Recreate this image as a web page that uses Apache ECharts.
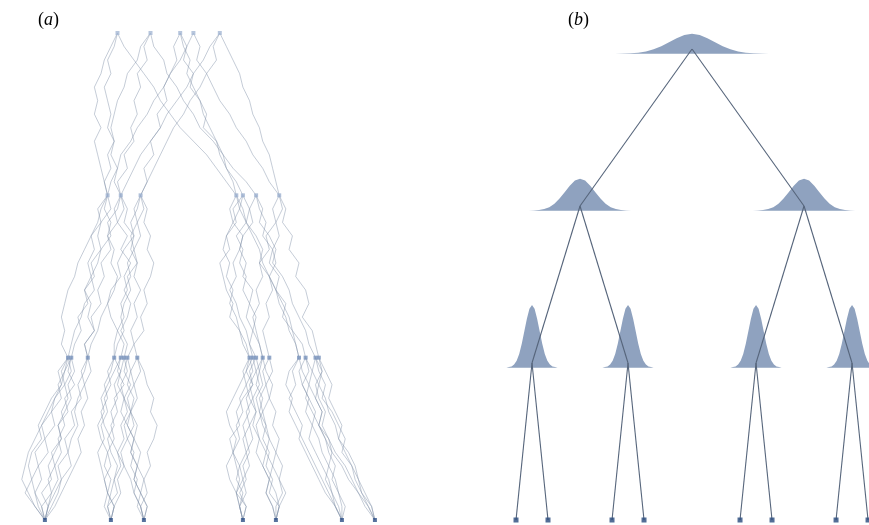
<!DOCTYPE html>
<html>
<head>
<meta charset="utf-8">
<script src="https://cdn.jsdelivr.net/npm/echarts@6/dist/echarts.min.js"></script>
<style>
  html, body { margin: 0; background: #fff; }
  #chart { width: 869px; height: 525px; }
</style>
</head>
<body>
<div id="chart"></div>
<script>
// (a) sample paths, x position at 13 equal time steps per generation
const walkTop = [
  [22, 20, 18, 17, 15, 16, 15, 17, 15, 16, 17, 18, 19],
  [22, 24, 27, 30, 33, 35, 38, 41, 45, 49, 52, 55, 58],
  [32, 30, 31, 28, 29, 27, 28, 26, 27, 24, 25, 22, 23],
  [32, 33, 36, 37, 40, 42, 45, 47, 51, 54, 57, 61, 64],
  [41, 39, 40, 38, 36, 37, 34, 35, 32, 33, 30, 31, 29],
  [41, 43, 42, 45, 44, 47, 49, 48, 52, 54, 55, 58, 60],
  [45, 43, 41, 38, 36, 33, 31, 28, 26, 23, 22, 20, 19],
  [45, 47, 46, 49, 51, 53, 56, 58, 61, 63, 66, 68, 71],
  [53, 50, 48, 45, 43, 40, 37, 35, 32, 29, 27, 25, 23],
  [53, 55, 57, 59, 60, 62, 63, 65, 66, 68, 69, 70, 71],
  [53, 51, 52, 49, 47, 44, 42, 39, 37, 35, 33, 31, 29],
  [41, 42, 44, 43, 45, 47, 48, 50, 52, 53, 55, 57, 58],
  [32, 29, 28, 25, 24, 22, 21, 20, 21, 19, 20, 18, 19],
  [22, 21, 19, 20, 18, 19, 20, 19, 21, 20, 22, 21, 23]
];
const walkMid = [
  [19, 17, 16, 14, 12, 10, 9, 7, 6, 5, 6, 5, 7],
  [19, 20, 17, 16, 17, 14, 15, 12, 13, 10, 11, 9, 8],
  [19, 18, 20, 19, 21, 20, 22, 21, 19, 20, 22, 21, 21],
  [23, 21, 22, 19, 20, 17, 18, 16, 17, 14, 15, 12, 13],
  [23, 24, 22, 25, 23, 26, 24, 25, 23, 24, 22, 24, 23],
  [23, 22, 19, 20, 17, 16, 14, 15, 12, 11, 9, 8, 7],
  [29, 27, 28, 26, 27, 25, 26, 24, 26, 25, 23, 25, 24],
  [29, 31, 30, 32, 31, 33, 32, 30, 31, 29, 30, 27, 28],
  [29, 28, 26, 27, 24, 22, 23, 20, 19, 17, 16, 14, 13],
  [23, 25, 24, 27, 26, 28, 27, 29, 27, 28, 26, 27, 25],
  [19, 16, 17, 14, 15, 13, 14, 12, 14, 13, 15, 12, 13],
  [29, 30, 28, 29, 27, 28, 25, 26, 24, 23, 24, 22, 21],
  [58, 56, 57, 55, 54, 56, 55, 57, 56, 58, 59, 61, 62],
  [58, 60, 61, 63, 65, 66, 68, 70, 71, 73, 74, 76, 77],
  [60, 59, 61, 58, 60, 59, 61, 60, 62, 61, 63, 62, 63],
  [60, 62, 61, 64, 66, 65, 68, 70, 72, 74, 75, 78, 79],
  [64, 62, 63, 60, 59, 57, 58, 56, 58, 59, 61, 62, 64],
  [64, 66, 65, 68, 70, 69, 72, 74, 75, 77, 79, 80, 82],
  [71, 69, 70, 67, 68, 65, 66, 64, 65, 63, 64, 65, 66],
  [71, 73, 72, 75, 74, 77, 76, 79, 80, 78, 81, 82, 83],
  [71, 72, 70, 71, 69, 70, 68, 69, 67, 68, 66, 67, 68],
  [60, 57, 58, 55, 56, 53, 54, 55, 57, 56, 59, 60, 62],
  [64, 65, 67, 66, 69, 68, 71, 70, 73, 72, 75, 76, 77],
  [58, 59, 57, 60, 59, 61, 60, 63, 62, 64, 63, 65, 66]
];
const walkLow = [
  [7, 5, 6, 3, 2, -1, 0, -3, -2, -4, -3, -2, 0],
  [7, 6, 4, 5, 2, 3, 0, 1, -2, -1, -3, -1, 0],
  [8, 7, 9, 6, 7, 4, 5, 2, 3, 1, 2, -1, 0],
  [8, 6, 5, 3, 1, -1, -3, -5, -6, -7, -5, -3, 0],
  [13, 11, 12, 10, 9, 10, 8, 7, 8, 5, 4, 2, 0],
  [13, 14, 12, 13, 11, 12, 10, 11, 9, 7, 5, 3, 0],
  [7, 8, 6, 7, 5, 6, 4, 5, 3, 4, 2, 1, 0],
  [13, 12, 10, 11, 8, 9, 6, 7, 4, 5, 3, 1, 0],
  [8, 9, 7, 8, 6, 4, 5, 3, 1, 2, -1, 1, 0],
  [7, 4, 5, 2, 0, -2, -1, -4, -5, -4, -6, -3, 0],
  [21, 19, 20, 18, 19, 17, 18, 16, 17, 18, 19, 18, 20],
  [23, 22, 24, 21, 22, 20, 21, 19, 20, 18, 19, 21, 20],
  [24, 23, 21, 22, 20, 21, 19, 20, 22, 21, 20, 19, 20],
  [25, 26, 25, 27, 26, 28, 27, 29, 28, 30, 29, 31, 30],
  [28, 30, 31, 33, 32, 34, 33, 31, 32, 30, 31, 29, 30],
  [21, 20, 18, 19, 17, 18, 20, 22, 24, 26, 27, 29, 30],
  [23, 21, 19, 17, 18, 16, 17, 19, 18, 20, 19, 21, 20],
  [24, 25, 23, 24, 26, 25, 27, 26, 28, 27, 29, 28, 30],
  [25, 24, 26, 24, 25, 23, 24, 22, 23, 21, 22, 19, 20],
  [28, 29, 27, 28, 26, 27, 25, 27, 26, 28, 27, 29, 30],
  [28, 26, 27, 25, 26, 24, 25, 23, 24, 22, 23, 21, 20],
  [21, 23, 22, 24, 23, 25, 27, 26, 28, 27, 29, 31, 30],
  [62, 60, 61, 59, 60, 58, 59, 57, 58, 59, 58, 61, 60],
  [63, 61, 59, 57, 55, 56, 58, 57, 59, 58, 60, 59, 60],
  [64, 65, 64, 66, 65, 67, 66, 68, 67, 69, 68, 71, 70],
  [66, 67, 69, 68, 70, 69, 71, 70, 72, 71, 73, 71, 70],
  [68, 66, 67, 65, 66, 64, 65, 67, 66, 68, 67, 69, 70],
  [62, 63, 61, 62, 64, 63, 65, 64, 66, 68, 67, 69, 70],
  [63, 64, 62, 63, 61, 62, 60, 61, 59, 60, 58, 59, 60],
  [64, 62, 63, 61, 62, 60, 61, 62, 60, 61, 59, 61, 60],
  [66, 64, 65, 63, 64, 62, 63, 61, 62, 60, 61, 59, 60],
  [68, 69, 67, 68, 66, 67, 68, 70, 69, 71, 72, 70, 70],
  [62, 61, 63, 60, 58, 59, 56, 57, 55, 56, 58, 59, 60],
  [66, 65, 66, 64, 65, 66, 68, 67, 69, 68, 70, 71, 70],
  [77, 75, 76, 74, 76, 78, 77, 79, 81, 83, 85, 88, 90],
  [79, 80, 78, 80, 82, 81, 83, 84, 86, 85, 87, 89, 90],
  [82, 84, 83, 85, 86, 88, 89, 91, 93, 94, 96, 98, 100],
  [83, 85, 87, 86, 88, 90, 89, 92, 94, 95, 97, 99, 100],
  [77, 78, 80, 79, 81, 83, 85, 87, 90, 92, 95, 97, 100],
  [79, 77, 78, 80, 79, 81, 80, 82, 84, 86, 87, 88, 90],
  [82, 81, 83, 82, 84, 83, 85, 86, 88, 87, 89, 91, 90],
  [83, 84, 82, 83, 85, 84, 86, 87, 86, 88, 89, 90, 90],
  [79, 81, 80, 82, 84, 83, 86, 88, 91, 93, 95, 98, 100],
  [77, 74, 73, 75, 74, 76, 78, 80, 82, 84, 86, 88, 90],
  [82, 83, 85, 84, 87, 89, 91, 90, 93, 95, 96, 99, 100]
];
const walkNodes = [
  [22, 32, 41, 45, 53],
  [19, 23, 29, 58, 60, 64, 71],
  [7, 8, 13, 21, 23, 24, 25, 28, 62, 63, 64, 66, 68, 77, 79, 82, 83],
  [0, 20, 30, 60, 70, 90, 100]
];

// (b) binary tree, node positions per level
const treeX = [
  [5.5],
  [2, 9],
  [0.5, 3.5, 7.5, 10.5],
  [0, 1, 3, 4, 7, 8, 10, 11]
];
const bellHalf = [2.4, 1.6, 0.8];
const bellPeak = [0.127, 0.204, 0.40];
const bellT = [-1, -0.9, -0.8, -0.7, -0.6, -0.5, -0.4, -0.3, -0.2, -0.1, 0,
  0.1, 0.2, 0.3, 0.4, 0.5, 0.6, 0.7, 0.8, 0.9, 1];
const bellH = [0, 0.01, 0.02, 0.05, 0.11, 0.22, 0.38, 0.58, 0.78, 0.94, 1,
  0.94, 0.78, 0.58, 0.38, 0.22, 0.11, 0.05, 0.02, 0.01, 0];

function walkCoords(arr, level) {
  let n = arr.length - 1;
  return arr.map((x, i) => [x, level + i / n]);
}
let walkData = [];
[walkTop, walkMid, walkLow].forEach((set, level) => {
  set.forEach((arr) => walkData.push({ coords: walkCoords(arr, level) }));
});

let bellData = [];
let edgeData = [];
treeX.forEach((xs, level) => {
  xs.forEach((x, i) => {
    if (level < 3) {
      bellData.push([x, level, bellHalf[level], bellPeak[level]]);
      let kids = treeX[level + 1];
      edgeData.push({ coords: [[x, level], [kids[2 * i], level + 1]] });
      edgeData.push({ coords: [[x, level], [kids[2 * i + 1], level + 1]] });
    }
  });
});

const nodeColors = ["#a5b8d4", "#9cb0cf", "#7892bb", "#2d4f86"];

// 面板标签 (a)(b)，字母斜体
function panelLabel(letter, left) {
  return {
    text: "{p|(}{i|" + letter + "}{p|)}",
    left: left,
    top: 6,
    textStyle: {
      rich: {
        p: { fontFamily: "Liberation Serif", fontSize: 18, fontWeight: "normal", color: "#000" },
        i: { fontFamily: "Liberation Serif", fontSize: 18, fontWeight: "normal", fontStyle: "italic", color: "#000" },
      },
    },
  };
}

let chart = echarts.init(document.getElementById("chart"));
chart.setOption({
  animation: false,
  title: [panelLabel("a", 33), panelLabel("b", 563)],
  grid: [
    { left: 0, top: 33, width: 400, height: 487 },
    { left: 480, top: 49, width: 389, height: 471 },
  ],
  xAxis: [
    { type: "value", gridIndex: 0, min: -13.6, max: 107.6, show: false },
    { type: "value", gridIndex: 1, min: -1.125, max: 11.03, show: false },
  ],
  yAxis: [
    { type: "value", gridIndex: 0, min: 0, max: 3, inverse: true, show: false },
    { type: "value", gridIndex: 1, min: 0, max: 3, inverse: true, show: false },
  ],
  series: [
    {
      type: "lines",
      coordinateSystem: "cartesian2d",
      xAxisIndex: 0,
      yAxisIndex: 0,
      polyline: true,
      silent: true,
      data: walkData,
      lineStyle: { color: "#7f8fa6", width: 0.9, opacity: 0.5 },
    },
    {
      type: "scatter",
      xAxisIndex: 0,
      yAxisIndex: 0,
      symbol: "rect",
      symbolSize: 4,
      silent: true,
      data: walkNodes.flatMap((xs, level) =>
        xs.map((x) => ({ value: [x, level], itemStyle: { color: nodeColors[level] } }))
      ),
    },
    {
      type: "custom",
      xAxisIndex: 1,
      yAxisIndex: 1,
      silent: true,
      data: bellData,
      encode: { x: 0, y: 1 },
      renderItem: function (params, api) {
        let cx = api.value(0);
        let base = api.value(1) + 0.03;
        let half = api.value(2);
        let peak = api.value(3);
        let pts = bellT.map((t, j) => api.coord([cx + t * half, base - bellH[j] * peak]));
        return { type: "polygon", shape: { points: pts }, style: { fill: "#8fa2bf" } };
      },
      z: 1,
    },
    {
      type: "lines",
      coordinateSystem: "cartesian2d",
      xAxisIndex: 1,
      yAxisIndex: 1,
      silent: true,
      data: edgeData,
      lineStyle: { color: "#56657b", width: 1.1, opacity: 1 },
      z: 3,
    },
    {
      type: "scatter",
      xAxisIndex: 1,
      yAxisIndex: 1,
      symbol: "rect",
      symbolSize: 5,
      silent: true,
      data: treeX[3].map((x) => [x, 3]),
      itemStyle: { color: "#27497c" },
      z: 4,
    },
  ],
});
</script>
</body>
</html>
